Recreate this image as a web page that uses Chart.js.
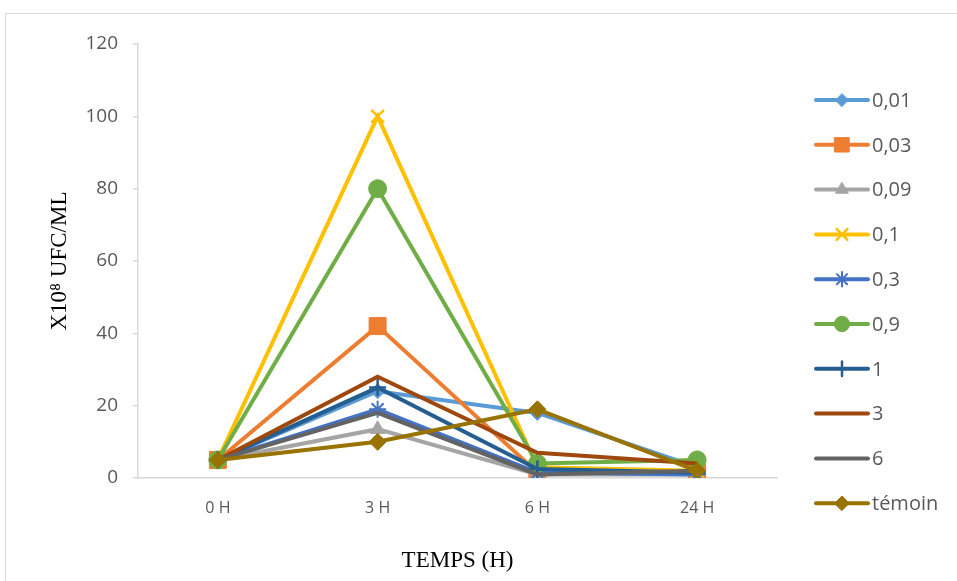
<!DOCTYPE html>
<html>
<head>
<meta charset="utf-8">
<script src="https://cdn.jsdelivr.net/npm/chart.js@4.4.0/dist/chart.umd.min.js"></script>
<style>
    html, body { margin: 0; padding: 0; background: #ffffff; overflow: hidden; }
    #wrap { position: relative; width: 957px; height: 581px; overflow: hidden; }
    #frame { position: absolute; left: 5px; top: 13px; width: 1000px; height: 600px; border: 1px solid #d9d9d9; box-sizing: border-box; }
    #chart { position: absolute; left: 0; top: 0; }
</style>
</head>
<body>
<div id="wrap">
    <div id="frame"></div>
    <canvas id="chart" width="957" height="581"></canvas>
</div>
<script>
// ======================== Data ========================

const timeLabels = ['0 H', '3 H', '6 H', '24 H'];
const seriesNames = ['0,01', '0,03', '0,09', '0,1', '0,3', '0,9', '1', '3', '6', 'témoin'];

const s001 = [5, 24, 18, 3];
const s003 = [5, 42, 1.5, 1.5];
const s009 = [5, 13.5, 1, 1];
const s01 = [5, 100, 3, 2];
const s03 = [5, 19, 1.5, 1];
const s09 = [5, 80, 4, 5];
const s1 = [5, 25, 2.5, 1.5];
const s3 = [5, 28, 7, 4];
const s6 = [5, 18, 1, 2];
const temoin = [5, 10, 19, 2];

const yTicks = [0, 20, 40, 60, 80, 100, 120];

// ======================== Styles ========================

const seriesValues = [s001, s003, s009, s01, s03, s09, s1, s3, s6, temoin];
const seriesColors = ['#5B9BD5', '#ED7D31', '#A5A5A5', '#FFC000', '#4472C4', '#70AD47', '#255E91', '#9E480E', '#636363', '#997300'];
const seriesMarkers = [
    { style: 'rectRot', radius: 7.5, border: 1 },
    { style: 'rect', radius: 12, border: 1 },
    { style: 'triangle', radius: 8.5, border: 1 },
    { style: 'crossRot', radius: 9, border: 2.5 },
    { style: 'star', radius: 8.5, border: 2 },
    { style: 'circle', radius: 9, border: 1 },
    { style: 'cross', radius: 8.5, border: 2.5 },
    { style: false, radius: 0, border: 0 },
    { style: false, radius: 0, border: 0 },
    { style: 'rectRot', radius: 8.5, border: 1 }
];

const datasets = seriesNames.map((name, i) => ({
    label: name,
    data: seriesValues[i],
    borderColor: seriesColors[i],
    backgroundColor: seriesColors[i],
    borderWidth: 4,
    tension: 0,
    pointStyle: seriesMarkers[i].style,
    pointRadius: seriesMarkers[i].radius,
    pointHoverRadius: seriesMarkers[i].radius,
    pointBorderWidth: seriesMarkers[i].border,
    pointBackgroundColor: seriesColors[i],
    pointBorderColor: seriesColors[i],
    // later series are drawn on top, like the original
    order: seriesNames.length - i
}));

// ======================== Legend (line + marker samples) ========================

const sideLegend = {
    id: 'sideLegend',
    afterDraw(chart) {
        const ctx = chart.ctx;
        ctx.save();
        seriesNames.forEach((name, i) => {
            const y = 100 + i * 44.8;
            ctx.strokeStyle = seriesColors[i];
            ctx.fillStyle = seriesColors[i];
            ctx.lineWidth = 4;
            ctx.lineCap = 'round';
            ctx.beginPath();
            ctx.moveTo(816, y);
            ctx.lineTo(868, y);
            ctx.stroke();

            const m = seriesMarkers[i];
            if (m.style) {
                ctx.lineWidth = m.border;
                Chart.helpers.drawPoint(ctx, {
                    pointStyle: m.style,
                    radius: m.radius * 0.85,
                    borderWidth: m.border,
                    rotation: 0
                }, 842, y);
            }

            ctx.fillStyle = '#595959';
            ctx.font = '20px "Open Sans"';
            ctx.textAlign = 'left';
            ctx.textBaseline = 'middle';
            ctx.fillText(name, 872, y + 1);
        });
        ctx.restore();
    }
};

// ======================== Chart ========================

new Chart(document.getElementById('chart'), {
    type: 'line',
    data: { labels: timeLabels, datasets: datasets },
    plugins: [sideLegend],
    options: {
        responsive: false,
        animation: false,
        events: [],
        layout: { padding: { left: 0, top: 44, right: 180, bottom: 0 } },
        plugins: {
            legend: { display: false },
            tooltip: { enabled: false }
        },
        scales: {
            x: {
                offset: true,
                grid: { display: false },
                border: { display: true, color: '#d9d9d9', width: 1.5 },
                ticks: {
                    color: '#595959',
                    font: { family: '"Open Sans"', size: 16 },
                    padding: 13
                },
                title: {
                    display: true,
                    text: 'TEMPS (H)',
                    color: '#000000',
                    font: { family: '"Liberation Serif"', size: 23 },
                    padding: { top: 0, bottom: 6 }
                },
                afterFit(scale) { scale.height = 103; }
            },
            y: {
                min: 0,
                max: 120,
                afterBuildTicks(scale) { scale.ticks = yTicks.map(v => ({ value: v })); },
                grid: { drawOnChartArea: false, drawTicks: true, tickLength: 5, color: '#d9d9d9', lineWidth: 1.5 },
                border: { display: true, color: '#d9d9d9', width: 1.5 },
                ticks: {
                    color: '#595959',
                    font: { family: '"Open Sans"', size: 19 },
                    padding: 15
                },
                title: {
                    display: true,
                    text: 'X10⁸ UFC/ML',
                    color: '#000000',
                    font: { family: '"Liberation Serif"', size: 23 },
                    padding: { top: 46, bottom: 0 }
                },
                afterFit(scale) { scale.width = 138; }
            }
        }
    }
});
</script>
</body>
</html>
